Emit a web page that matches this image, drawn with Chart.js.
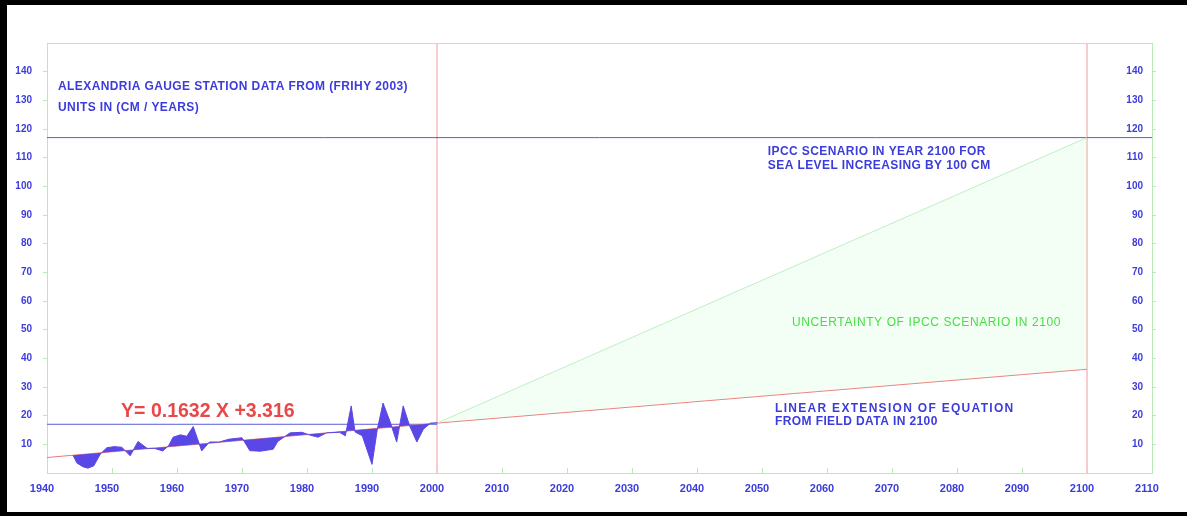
<!DOCTYPE html>
<html>
<head>
<meta charset="utf-8">
<script src="https://cdn.jsdelivr.net/npm/chart.js@4.4.1/dist/chart.umd.min.js"></script>
<style>
  html, body { margin: 0; padding: 0; background: #fff; overflow: hidden; }
  #wrap { position: relative; width: 1187px; height: 516px; }
</style>
</head>
<body>
<div id="wrap"><canvas id="c" width="1187" height="516"></canvas></div>
<script>
// Alexandria gauge: annual mean sea level (cm)
const gaugeYears = [1944.0, 1944.6, 1945.5, 1946.3, 1947.2, 1948.2, 1949.2, 1950.3, 1951.5, 1952.8,
                    1954.0, 1955.4, 1956.5, 1957.8, 1958.7, 1959.4, 1960.5, 1961.5, 1962.5, 1963.8,
                    1965.0, 1966.5, 1968.0, 1970.0, 1971.2, 1972.8, 1974.8, 1975.5, 1977.4, 1979.2,
                    1980.5, 1981.7, 1983.0, 1985.0, 1985.9, 1986.8, 1987.4, 1988.5, 1990.0, 1990.8,
                    1991.7, 1992.8, 1993.8, 1994.8, 1995.8, 1996.9, 1997.9, 1999.0, 2000.1];
const gaugeLevels = [6.2, 3.5, 2.2, 1.7, 2.5, 6.6, 8.8, 9.2, 9.0, 6.0,
                     11.0, 8.6, 8.6, 7.7, 9.5, 12.5, 13.3, 12.8, 16.2, 7.7,
                     10.8, 10.8, 11.8, 12.3, 7.8, 7.6, 8.3, 11.0, 14.0, 14.2,
                     13.2, 12.5, 14.0, 14.2, 13.0, 23.4, 14.3, 13.0, 3.0, 15.0,
                     24.4, 17.8, 10.8, 23.4, 16.4, 10.8, 15.3, 17.4, 17.5];

// Linear fit of the field data, extended to 2100
const trendYears = [1940, 2000, 2100];
const trendLevels = [5.4, 17.4, 36.2];

// IPCC scenario: +100 cm by 2100
const ipccYears = [2000, 2100];
const ipccLevels = [17.4, 117];

// Reference levels and reference years
const level2000 = 17;
const levelIpcc2100 = 117;
const markerYears = [2000, 2100];

// Axis ranges and tick labels
const yearMin = 1940, yearMax = 2110;
const levelMin = 0, levelMax = 150;
const yearTicks = [1940, 1950, 1960, 1970, 1980, 1990, 2000, 2010, 2020, 2030, 2040,
                   2050, 2060, 2070, 2080, 2090, 2100, 2110];
const levelTicks = [10, 20, 30, 40, 50, 60, 70, 80, 90, 100, 110, 120, 130, 140];

const pts = (xs, ys) => xs.map((x, i) => ({ x, y: ys[i] }));

const BLUE = '#3c3cdc';
const AXIS_GREEN = '#b6eab6';
const FONT = '"Liberation Sans", Arial, sans-serif';

// Text notes, anchored in data coordinates (left edge, vertical middle)
const notes = [
  { text: 'ALEXANDRIA GAUGE STATION DATA FROM (FRIHY 2003)', x: 1941.7, y: 134.8, color: BLUE, font: 'bold 12px ' + FONT, spacing: '0.4px' },
  { text: 'UNITS IN (CM / YEARS)', x: 1941.7, y: 127.4, color: BLUE, font: 'bold 12px ' + FONT, spacing: '0.4px' },
  { text: 'IPCC SCENARIO IN YEAR 2100 FOR', x: 2050.9, y: 112.2, color: BLUE, font: 'bold 12px ' + FONT, spacing: '0.4px' },
  { text: 'SEA LEVEL INCREASING BY 100 CM', x: 2050.9, y: 107.3, color: BLUE, font: 'bold 12px ' + FONT, spacing: '0.4px' },
  { text: 'UNCERTAINTY OF IPCC SCENARIO IN 2100', x: 2054.6, y: 52.6, color: '#46e046', font: '12px ' + FONT, spacing: '0.6px' },
  { text: 'LINEAR EXTENSION OF EQUATION', x: 2052.0, y: 22.6, color: BLUE, font: 'bold 12px ' + FONT, spacing: '1.3px' },
  { text: 'FROM FIELD DATA IN 2100', x: 2052.0, y: 17.8, color: BLUE, font: 'bold 12px ' + FONT, spacing: '0.4px' },
  { text: 'Y= 0.1632 X +3.316', x: 1951.4, y: 21.3, color: '#e84848', font: 'bold 19.5px ' + FONT, spacing: '0px' }
];

const notesPlugin = {
  id: 'notes',
  afterDatasetsDraw(chart) {
    const { ctx, scales: { x, y } } = chart;
    ctx.save();
    ctx.textBaseline = 'middle';
    ctx.textAlign = 'left';
    for (const n of notes) {
      ctx.font = n.font;
      ctx.letterSpacing = n.spacing;
      ctx.fillStyle = n.color;
      ctx.fillText(n.text, x.getPixelForValue(n.x), y.getPixelForValue(n.y));
    }
    ctx.restore();
  }
};

// Top frame edge and short inward ticks on the year axis
const framePlugin = {
  id: 'frame',
  afterDraw(chart) {
    const { ctx, chartArea: a, scales: { x } } = chart;
    ctx.save();
    ctx.strokeStyle = AXIS_GREEN;
    ctx.lineWidth = 1;
    ctx.beginPath();
    ctx.moveTo(a.left, a.top + 0.5);
    ctx.lineTo(a.right, a.top + 0.5);
    for (const t of x.ticks) {
      const px = Math.round(x.getPixelForValue(t.value)) + 0.5;
      ctx.moveTo(px, a.bottom - 5);
      ctx.lineTo(px, a.bottom + 1);
    }
    ctx.stroke();
    // black page edges
    ctx.fillStyle = '#000';
    ctx.fillRect(0, 0, chart.width, 5);
    ctx.fillRect(0, 0, 7, chart.height);
    ctx.fillRect(0, chart.height - 4, chart.width, 4);
    ctx.restore();
  }
};

const lineDefaults = { pointRadius: 0, pointHoverRadius: 0, tension: 0, borderWidth: 1 };

new Chart(document.getElementById('c'), {
  type: 'line',
  data: {
    datasets: [
      { ...lineDefaults, label: 'Gauge', data: pts(gaugeYears, gaugeLevels),
        borderColor: '#5a48e6', backgroundColor: '#5a48e6',
        fill: { target: 2, above: '#5a48e6', below: '#5a48e6' } },
      { ...lineDefaults, label: 'IPCC', data: pts(ipccYears, ipccLevels),
        borderColor: '#bdf0c4', fill: { target: 2, above: 'rgba(200,250,205,0.22)', below: 'rgba(200,250,205,0.22)' } },
      { ...lineDefaults, label: 'Trend', data: pts(trendYears, trendLevels),
        borderColor: '#ec7878', fill: false },
      { ...lineDefaults, label: 'IPCC 2100 level', data: pts([yearMin, yearMax], [levelIpcc2100, levelIpcc2100]),
        borderColor: '#5c5cd6', fill: false },
      { ...lineDefaults, label: '2000 level', data: pts([yearMin, markerYears[0]], [level2000, level2000]),
        borderColor: '#5c5cd6', fill: false },
      { ...lineDefaults, label: '2000', data: pts([markerYears[0], markerYears[0]], [levelMin, levelMax]),
        borderColor: '#f29a9a', fill: false },
      { ...lineDefaults, label: '2100', data: pts([markerYears[1], markerYears[1]], [levelMin, levelMax]),
        borderColor: '#f29a9a', fill: false }
    ]
  },
  options: {
    responsive: false,
    animation: false,
    devicePixelRatio: 1,
    layout: { padding: { top: 43, left: 0, right: 0, bottom: 0 } },
    plugins: { legend: { display: false }, tooltip: { enabled: false } },
    scales: {
      x: {
        type: 'linear', min: yearMin, max: yearMax,
        afterBuildTicks: s => { s.ticks = yearTicks.map(v => ({ value: v })); },
        afterFit: s => { s.height = 43; },
        grid: { display: true, drawOnChartArea: false, drawTicks: false },
        border: { display: true, color: AXIS_GREEN },
        ticks: { color: BLUE, font: { family: FONT, size: 11, weight: 'bold' }, padding: 9,
                 labelOffset: -5, maxRotation: 0, autoSkip: false,
                 callback: v => String(v) }
      },
      y: {
        type: 'linear', position: 'left', min: levelMin, max: levelMax,
        afterBuildTicks: s => { s.ticks = levelTicks.map(v => ({ value: v })); },
        afterFit: s => { s.width = 47; },
        grid: { drawOnChartArea: false, drawTicks: true, tickLength: 4, tickColor: AXIS_GREEN },
        border: { display: true, color: AXIS_GREEN },
        ticks: { color: BLUE, font: { family: FONT, size: 10, weight: 'bold' }, padding: 11,
                 callback: v => String(v) }
      },
      y2: {
        type: 'linear', position: 'right', min: levelMin, max: levelMax,
        afterBuildTicks: s => { s.ticks = levelTicks.map(v => ({ value: v })); },
        afterFit: s => { s.width = 35; },
        grid: { drawOnChartArea: false, drawTicks: true, tickLength: 4, tickColor: AXIS_GREEN },
        border: { display: true, color: AXIS_GREEN },
        ticks: { color: BLUE, font: { family: FONT, size: 10, weight: 'bold' }, padding: -9, mirror: true,
                 callback: v => String(v) }
      }
    }
  },
  plugins: [notesPlugin, framePlugin]
});
</script>
</body>
</html>
